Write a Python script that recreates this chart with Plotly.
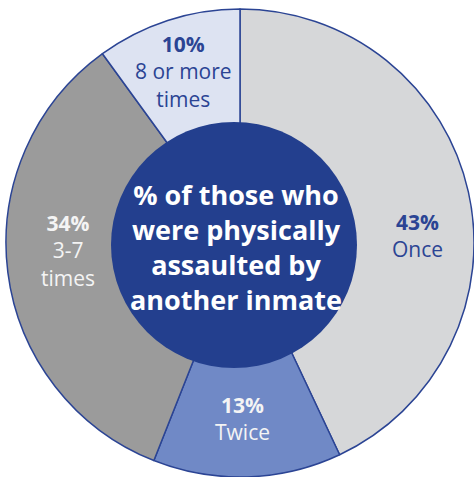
import plotly.graph_objects as go

# ---- data ----
categories = ["Once", "Twice", "3-7<br>times", "8 or more<br>times"]
values = [43, 13, 34, 10]
slice_colors = ["#d6d7d9", "#7089c6", "#9b9b9b", "#dde3f2"]
label_colors = ["#2b4494", "#f4f4f4", "#f4f4f4", "#2b4494"]
center_title = "% of those who<br>were physically<br>assaulted by<br>another inmate"

W, H = 474, 477
# label anchor positions (pixels from top-left), layout only
label_pos = [(417, 236), (243, 418), (68, 250), (183, 72)]

fig = go.Figure()
fig.add_trace(go.Pie(
    labels=categories,
    values=values,
    sort=False,
    direction="clockwise",
    rotation=0,
    hole=0,
    marker=dict(colors=slice_colors, line=dict(color="#2b4494", width=1.5)),
    textinfo="none",
    hoverinfo="label+percent",
    showlegend=False,
    domain=dict(x=[6 / W, 1.0], y=[0.0, 468 / H]),
))

# dark blue centre disc
cx, cy, r = 234, 245, 123
fig.add_shape(
    type="circle", xref="paper", yref="paper",
    x0=(cx - r) / W, x1=(cx + r) / W,
    y0=1 - (cy + r) / H, y1=1 - (cy - r) / H,
    fillcolor="#233f8e", line=dict(width=0), layer="above",
)

annotations = []
total = sum(values)
for cat, v, col, (px, py) in zip(categories, values, label_colors, label_pos):
    pct = round(100 * v / total)
    annotations.append(dict(
        x=px / W, y=1 - py / H, xref="paper", yref="paper",
        text=f"<b>{pct}%</b><br>{cat}", showarrow=False,
        font=dict(family="Open Sans", size=21, color=col),
        align="center", xanchor="center", yanchor="middle",
    ))
annotations.append(dict(
    x=236 / W, y=1 - 247 / H, xref="paper", yref="paper",
    text=f"<b>{center_title}</b>", showarrow=False,
    font=dict(family="Open Sans", size=27, color="#ffffff"),
    align="center", xanchor="center", yanchor="middle",
))

fig.update_layout(
    width=W, height=H,
    margin=dict(l=0, r=0, t=0, b=0),
    paper_bgcolor="#ffffff", plot_bgcolor="#ffffff",
    annotations=annotations,
)

fig.write_html(
    "out.html",
    config={"displayModeBar": False},
    post_script="document.body.style.margin='0';document.body.style.padding='0';",
)
